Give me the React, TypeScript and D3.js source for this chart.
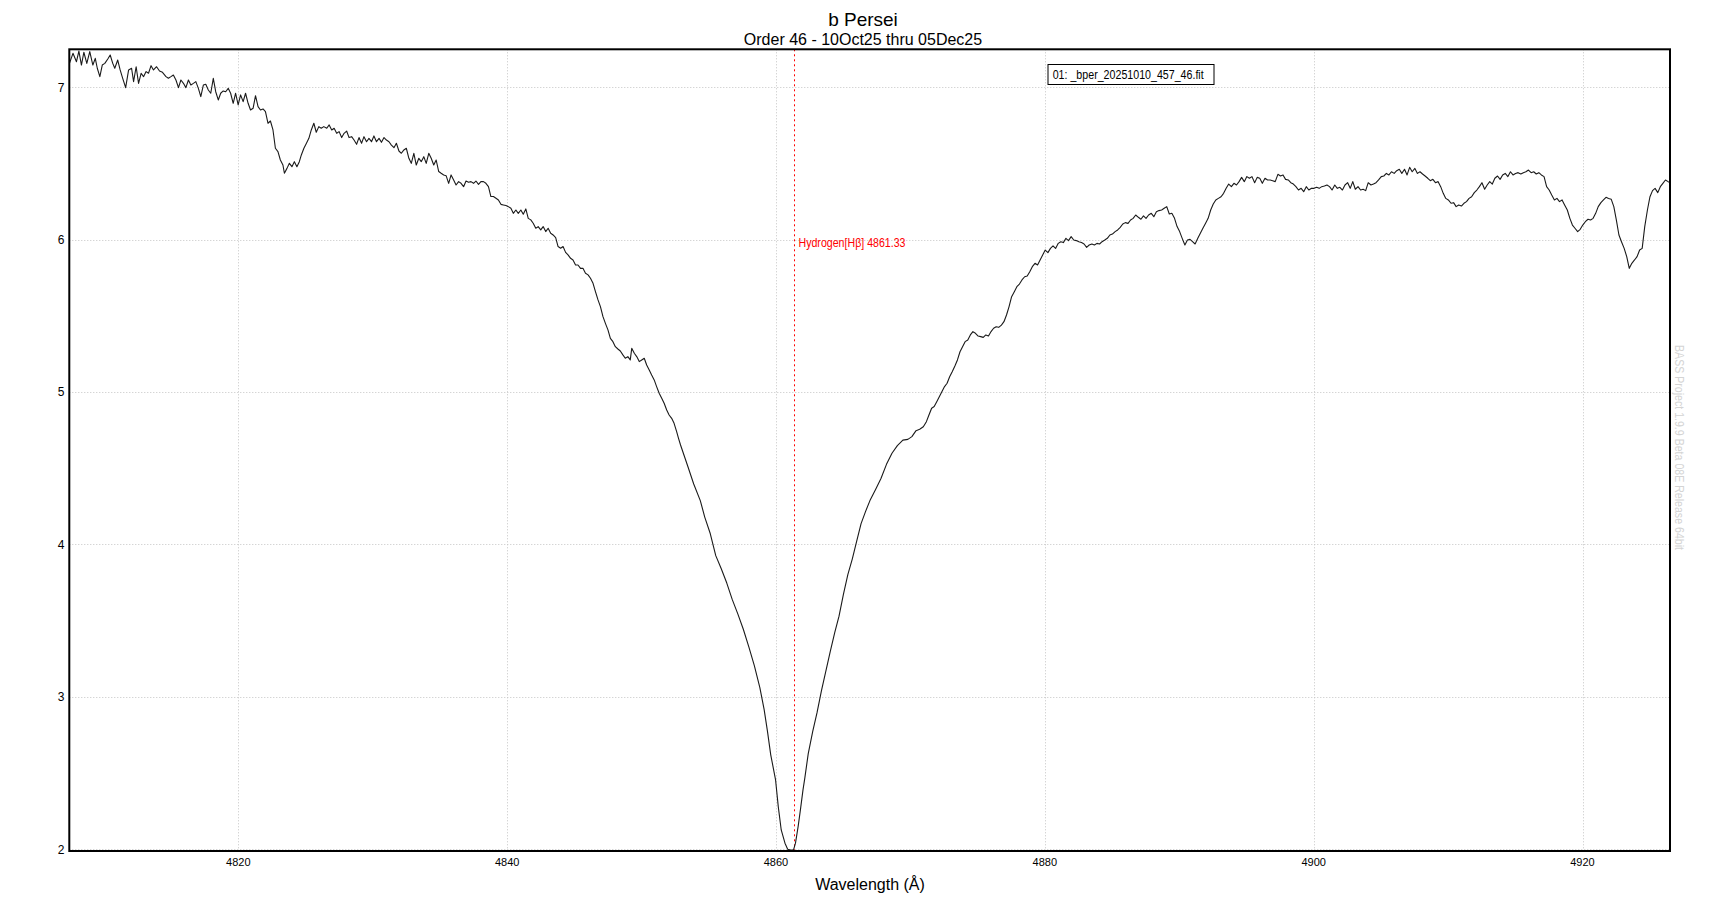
import React from "react";
import * as d3 from "d3";

// ---------- DATA ----------
const title = "b Persei";
const subtitle = "Order 46 - 10Oct25 thru 05Dec25";
const legendLabel = "01: _bper_20251010_457_46.fit";
const xAxisTitle = "Wavelength (Å)";
const watermark = "BASS Project 1.9.9 Beta 08E Release 64bit";
const markerLabel = "Hydrogen[Hβ] 4861.33";
const markerWavelength = 4861.33;

const xTicks = [4820, 4840, 4860, 4880, 4900, 4920];
const yTicks = [2, 3, 4, 5, 6, 7];

// blue continuum (noisy part)
const blueWl = [4807.40,4807.70,4807.96,4808.14,4808.33,4808.51,4808.73,4808.95,4809.18,4809.36,4809.51,4809.70,4809.88,4810.07,4810.29,4810.47,4810.66,4810.81,4811.03,4811.21,4811.40,4811.62,4811.84,4812.06,4812.21,4812.40,4812.58,4812.77,4812.95,4813.14,4813.32,4813.51,4813.69,4813.92,4814.14,4814.36,4814.62,4814.80,4814.99,4815.17,4815.36,4815.55,4815.73,4815.92,4816.10,4816.29,4816.47,4816.66,4816.84,4817.03,4817.21,4817.40,4817.58,4817.77,4817.95,4818.14,4818.32,4818.51,4818.69,4818.88,4819.06,4819.25,4819.43,4819.62,4819.80,4819.99,4820.17,4820.36,4820.54,4820.73,4820.91,4821.10,4821.28,4821.47,4821.65,4821.84,4822.02,4822.21,4822.39,4822.58,4822.76,4822.95,4823.13,4823.32,4823.43,4823.62,4823.80,4823.99,4824.17,4824.36,4824.54,4824.69,4824.88,4825.06,4825.25,4825.43,4825.62,4825.80,4825.99,4826.17,4826.36,4826.58,4826.76,4826.95,4827.13,4827.32,4827.50,4827.69,4827.87,4828.06,4828.24,4828.43,4828.61,4828.80,4828.98,4829.17,4829.35,4829.54,4829.72,4829.91,4830.09,4830.28,4830.47,4830.65,4830.84,4831.02,4831.21,4831.39,4831.58,4831.76,4831.95,4832.13,4832.32,4832.50,4832.69,4832.87,4833.06,4833.24,4833.43,4833.61,4833.80,4833.98,4834.17,4834.35,4834.54,4834.72,4834.91,4835.09,4835.28,4835.46,4835.65,4835.83,4836.02,4836.20,4836.39,4836.57,4836.76,4836.94,4837.13,4837.31,4837.50,4837.68,4837.87,4838.05,4838.24,4838.42,4838.61,4838.79,4838.98,4839.17,4839.35,4839.54,4839.72,4839.91,4840.09,4840.28,4840.46,4840.65,4840.83,4841.02,4841.20,4841.39,4841.57,4841.76,4841.94,4842.13,4842.31,4842.50,4842.68,4842.87,4843.05,4843.24,4843.42,4843.61,4843.79,4843.98,4844.16,4844.35,4844.53,4844.72,4844.90,4845.09,4845.27,4845.46,4845.64,4845.83,4846.02,4846.20,4846.39,4846.57,4846.76,4846.94,4847.13,4847.31,4847.50,4847.68,4847.87,4848.05,4848.24,4848.42,4848.61,4848.79,4848.98,4849.16,4849.27,4849.46,4849.64,4849.83,4850.01,4850.20,4850.38,4850.57,4850.75,4850.94,4851.12,4851.31,4851.50,4851.68,4851.87,4852.05,4852.24,4852.42,4852.61,4852.75,4852.90];
const blueFlux = [7.147,7.223,7.168,7.238,7.146,7.230,7.157,7.234,7.146,7.190,7.125,7.070,7.146,7.157,7.186,7.212,7.157,7.125,7.179,7.114,7.059,6.998,7.114,7.125,7.037,7.135,7.026,7.092,7.070,7.103,7.092,7.142,7.114,7.135,7.107,7.098,7.070,7.059,7.070,7.081,7.048,6.998,7.048,7.026,6.998,7.048,7.015,7.026,7.037,6.993,6.939,7.015,7.020,6.982,6.961,7.059,6.971,6.917,6.961,6.976,6.971,6.993,6.961,6.895,6.961,6.884,6.950,6.906,6.961,6.895,6.851,6.862,6.945,6.873,6.851,6.858,6.840,6.764,6.779,6.720,6.600,6.578,6.523,6.490,6.436,6.468,6.501,6.479,6.512,6.479,6.512,6.556,6.600,6.632,6.665,6.720,6.764,6.705,6.742,6.731,6.742,6.731,6.753,6.720,6.731,6.698,6.709,6.670,6.698,6.713,6.670,6.676,6.654,6.626,6.670,6.633,6.676,6.643,6.665,6.643,6.681,6.643,6.665,6.639,6.670,6.654,6.643,6.621,6.604,6.633,6.582,6.567,6.589,6.600,6.534,6.501,6.567,6.490,6.534,6.512,6.545,6.501,6.567,6.534,6.490,6.523,6.447,6.436,6.425,6.420,6.370,6.425,6.392,6.359,6.381,6.370,6.348,6.385,6.377,6.381,6.370,6.385,6.363,6.381,6.381,6.370,6.348,6.283,6.283,6.272,6.261,6.232,6.228,6.224,6.217,6.206,6.173,6.195,6.173,6.195,6.167,6.202,6.140,6.130,6.108,6.075,6.086,6.064,6.086,6.053,6.075,6.042,6.031,6.013,5.955,5.944,5.955,5.917,5.900,5.878,5.867,5.834,5.834,5.812,5.812,5.780,5.769,5.747,5.714,5.659,5.605,5.561,5.495,5.451,5.408,5.353,5.331,5.298,5.283,5.270,5.244,5.222,5.233,5.211,5.287,5.255,5.233,5.200,5.211,5.222,5.178,5.145,5.112,5.080,5.036,4.992,4.959,4.927,4.883,4.850,4.828,4.795,4.741,4.697,4.653];

// H-beta core
const coreWl = [4853.47,4853.88,4854.37,4854.70,4855.11,4855.52,4855.93,4856.34,4856.75,4857.16,4857.57,4857.98,4858.39,4858.80,4859.12,4859.37,4859.61,4859.97,4860.17,4860.39,4860.67,4860.87,4861.10,4861.30,4861.45,4861.65,4861.82,4862.01,4862.15,4862.40,4862.73,4863.05,4863.38,4863.71,4864.04,4864.37,4864.69,4865.02,4865.35,4865.68,4866.00,4866.33,4866.66,4866.99,4867.40,4867.81,4868.22,4868.63,4869.03,4869.44];
const coreFlux = [4.505,4.397,4.288,4.180,4.072,3.927,3.841,3.747,3.638,3.545,3.444,3.328,3.205,3.061,2.917,2.772,2.620,2.455,2.280,2.127,2.040,2.000,1.995,1.995,2.040,2.150,2.260,2.390,2.470,2.628,2.772,2.895,3.039,3.169,3.299,3.422,3.530,3.675,3.804,3.906,4.021,4.137,4.216,4.288,4.360,4.433,4.526,4.599,4.649,4.685];

// red continuum
const redWl = [4869.81,4870.11,4870.42,4870.69,4870.96,4871.19,4871.38,4871.58,4871.77,4871.96,4872.15,4872.34,4872.54,4872.73,4872.92,4873.11,4873.31,4873.50,4873.69,4873.88,4874.07,4874.27,4874.46,4874.65,4874.84,4875.04,4875.23,4875.42,4875.61,4875.81,4876.00,4876.19,4876.38,4876.57,4876.77,4876.96,4877.15,4877.34,4877.53,4877.73,4877.92,4878.11,4878.30,4878.50,4878.69,4878.88,4879.07,4879.27,4879.46,4879.65,4879.84,4880.03,4880.23,4880.42,4880.61,4880.80,4881.00,4881.19,4881.38,4881.57,4881.76,4881.96,4882.15,4882.34,4882.53,4882.73,4882.92,4883.11,4883.30,4883.50,4883.69,4883.88,4884.07,4884.26,4884.46,4884.65,4884.84,4885.03,4885.23,4885.42,4885.61,4885.80,4885.99,4886.19,4886.38,4886.57,4886.76,4886.96,4887.15,4887.34,4887.53,4887.72,4887.92,4888.11,4888.30,4888.49,4888.69,4888.88,4889.07,4889.26,4889.45,4889.65,4889.84,4890.03,4890.22,4890.42,4890.61,4890.80,4890.99,4891.18,4891.38,4891.57,4891.76,4891.95,4892.15,4892.34,4892.53,4892.72,4892.91,4893.11,4893.30,4893.49,4893.68,4893.88,4894.07,4894.26,4894.45,4894.64,4894.84,4895.03,4895.22,4895.41,4895.61,4895.80,4895.99,4896.18,4896.38,4896.57,4896.76,4896.95,4897.14,4897.34,4897.53,4897.72,4897.91,4898.11,4898.30,4898.49,4898.68,4898.87,4899.07,4899.26,4899.45,4899.64,4899.84,4900.03,4900.22,4900.41,4900.60,4900.80,4900.99,4901.18,4901.37,4901.57,4901.76,4901.95,4902.14,4902.33,4902.53,4902.72,4902.91,4903.10,4903.30,4903.49,4903.68,4903.87,4904.06,4904.26,4904.45,4904.64,4904.83,4905.03,4905.22,4905.41,4905.60,4905.79,4905.99,4906.18,4906.37,4906.56,4906.76,4906.95,4907.14,4907.33,4907.53,4907.72,4907.91,4908.10,4908.29,4908.49,4908.68,4908.87,4909.06,4909.26,4909.45,4909.64,4909.83,4910.02,4910.22,4910.41,4910.60,4910.79,4910.99,4911.18,4911.37,4911.56,4911.75,4911.95,4912.14,4912.33,4912.52,4912.72,4912.91,4913.10,4913.29,4913.48,4913.68,4913.87,4914.06,4914.25,4914.45,4914.64,4914.83,4915.02,4915.21,4915.41,4915.60,4915.79,4915.98,4916.18,4916.37,4916.56,4916.75,4916.94,4917.14,4917.33,4917.52,4917.71,4917.91,4918.10,4918.29,4918.48,4918.67,4918.87,4919.06,4919.25,4919.44,4919.64,4919.83,4920.02,4920.21,4920.41,4920.60,4920.79,4920.98,4921.17,4921.37,4921.56,4921.75,4921.94,4922.14,4922.33,4922.52,4922.71,4922.90,4923.10,4923.29,4923.48,4923.67,4923.87,4924.06,4924.25,4924.44,4924.63,4924.83,4925.02,4925.21,4925.40,4925.60,4925.79,4925.98,4926.17,4926.37,4926.56];
const redFlux = [4.690,4.708,4.747,4.756,4.773,4.806,4.850,4.894,4.905,4.937,4.970,5.003,5.036,5.058,5.101,5.134,5.171,5.211,5.265,5.298,5.331,5.342,5.375,5.397,5.386,5.368,5.364,5.359,5.375,5.368,5.397,5.419,5.429,5.425,5.440,5.462,5.506,5.561,5.626,5.659,5.692,5.709,5.736,5.757,5.762,5.790,5.823,5.845,5.834,5.867,5.900,5.932,5.915,5.943,5.959,5.943,5.976,5.987,5.981,6.009,5.994,6.020,5.998,5.994,5.987,5.981,5.972,5.950,5.965,5.972,5.965,5.976,5.972,5.987,5.998,6.009,6.031,6.037,6.053,6.064,6.081,6.103,6.112,6.107,6.129,6.140,6.162,6.147,6.134,6.156,6.140,6.162,6.173,6.151,6.184,6.191,6.195,6.206,6.217,6.169,6.173,6.140,6.086,6.053,6.009,5.965,5.998,6.002,5.987,5.972,6.009,6.042,6.075,6.107,6.140,6.195,6.234,6.261,6.271,6.282,6.304,6.337,6.365,6.348,6.370,6.359,6.381,6.409,6.381,6.414,6.403,6.414,6.374,6.409,6.403,6.370,6.403,6.392,6.392,6.387,6.381,6.429,6.418,6.425,6.396,6.392,6.374,6.365,6.348,6.326,6.337,6.315,6.348,6.326,6.337,6.337,6.344,6.337,6.348,6.352,6.359,6.348,6.326,6.359,6.337,6.344,6.326,6.359,6.374,6.337,6.381,6.331,6.348,6.326,6.331,6.322,6.374,6.359,6.365,6.374,6.392,6.414,6.418,6.435,6.425,6.446,6.435,6.453,6.462,6.435,6.462,6.425,6.475,6.446,6.468,6.435,6.446,6.431,6.418,6.403,6.387,6.396,6.374,6.381,6.348,6.304,6.271,6.261,6.239,6.243,6.217,6.228,6.221,6.239,6.250,6.271,6.282,6.309,6.326,6.348,6.374,6.331,6.359,6.381,6.365,6.403,6.418,6.396,6.425,6.435,6.414,6.446,6.425,6.435,6.440,6.431,6.440,6.446,6.457,6.440,6.446,6.431,6.440,6.425,6.414,6.348,6.326,6.293,6.261,6.271,6.250,6.261,6.228,6.195,6.140,6.096,6.075,6.053,6.068,6.096,6.118,6.134,6.129,6.140,6.173,6.217,6.243,6.261,6.278,6.271,6.265,6.217,6.129,6.031,5.987,5.943,5.889,5.812,5.845,5.867,5.889,5.932,5.943,6.086,6.195,6.282,6.322,6.337,6.309,6.348,6.370,6.392,6.381,6.374];

// ---------- CHART ----------
const FONT = "'Liberation Sans', Arial, sans-serif";

export default function App() {
  const W = 1726;
  const H = 900;
  const plot = { left: 69.3, right: 1670, top: 49.3, bottom: 851 };

  const x = d3.scaleLinear().domain([4820, 4920]).range([238.3, 1582.5]);
  const y = d3.scaleLinear().domain([2, 7]).range([849.3, 87.3]);

  const wl = [...blueWl, ...coreWl, ...redWl];
  const fl = [...blueFlux, ...coreFlux, ...redFlux];
  const pts: [number, number][] = wl.map((w, i) => [w, fl[i]]);

  const line = d3
    .line<[number, number]>()
    .x((d) => x(d[0]))
    .y((d) => y(d[1]));

  const snap = (v: number) => Math.round(v) + 0.5;
  const mx = snap(x(markerWavelength));

  return (
    <svg
      width={W}
      height={H}
      style={{ position: "absolute", left: 0, top: 0, display: "block", background: "#fff" }}
      fontFamily={FONT}
    >
      <defs>
        <clipPath id="plotClip">
          <rect x={plot.left} y={plot.top} width={plot.right - plot.left} height={plot.bottom - plot.top} />
        </clipPath>
      </defs>
      <rect x={0} y={0} width={W} height={H} fill="#fff" />

      {/* gridlines */}
      <g stroke="#c4c4c4" strokeWidth={1} strokeDasharray="1,2">
        {xTicks.map((t) => (
          <line key={"gx" + t} x1={snap(x(t))} x2={snap(x(t))} y1={plot.top} y2={plot.bottom} />
        ))}
        {yTicks.map((t) => (
          <line key={"gy" + t} x1={plot.left} x2={plot.right} y1={snap(y(t))} y2={snap(y(t))} />
        ))}
      </g>

      {/* H-beta marker */}
      <line x1={mx} x2={mx} y1={plot.top} y2={plot.bottom} stroke="#ff0000" strokeWidth={1} strokeDasharray="2,3" />
      <text x={mx + 4} y={246.7} fontSize={12} fill="#ff0000" textLength={107} lengthAdjust="spacingAndGlyphs">
        {markerLabel}
      </text>

      {/* spectrum */}
      <path d={line(pts) || ""} fill="none" stroke="#1a1a1a" strokeWidth={1.1} strokeLinejoin="round" clipPath="url(#plotClip)" />

      {/* frame */}
      <rect
        x={plot.left}
        y={plot.top}
        width={plot.right - plot.left}
        height={plot.bottom - plot.top}
        fill="none"
        stroke="#000"
        strokeWidth={2}
      />

      {/* legend */}
      <rect x={1048} y={64.5} width={166} height={20} fill="#fff" stroke="#000" strokeWidth={1} />
      <text x={1052.7} y={79.3} fontSize={12} fill="#000" textLength={151} lengthAdjust="spacingAndGlyphs">
        {legendLabel}
      </text>

      {/* y tick labels */}
      {yTicks.map((t) => (
        <text key={"yl" + t} x={64.5} y={y(t) + 4.3} fontSize={12} textAnchor="end" fill="#000">
          {t}
        </text>
      ))}

      {/* x tick labels */}
      {xTicks.map((t) => (
        <text key={"xl" + t} x={x(t)} y={866} fontSize={11} textAnchor="middle" fill="#000">
          {t}
        </text>
      ))}

      {/* titles */}
      <text x={863} y={25.7} fontSize={19} textAnchor="middle" fill="#000">
        {title}
      </text>
      <text x={863} y={45} fontSize={16} textAnchor="middle" fill="#000">
        {subtitle}
      </text>
      <text x={870} y={890} fontSize={16} textAnchor="middle" fill="#000">
        {xAxisTitle}
      </text>

      {/* watermark */}
      <text
        transform={`translate(1675,345) rotate(90)`}
        fontSize={12}
        fill="#d4d4d4"
        textLength={205}
        lengthAdjust="spacingAndGlyphs"
      >
        {watermark}
      </text>
    </svg>
  );
}
